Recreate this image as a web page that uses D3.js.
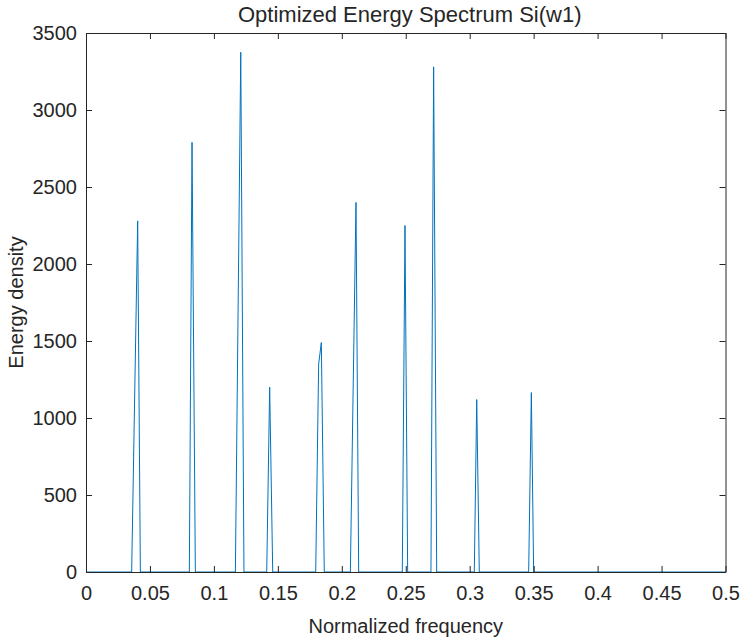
<!DOCTYPE html>
<html>
<head>
<meta charset="utf-8">
<script src="https://cdn.jsdelivr.net/npm/d3@7"></script>
<style>
  body { margin: 0; background: #fff; }
  svg text { font-family: "Liberation Sans", Arial, sans-serif; fill: #262626; }
  .axis path, .axis line { stroke: #262626; }
</style>
</head>
<body>
<div class="wrap"></div>
<script>
// spectrum samples (zero bases included)
const freq = [0, 0.0357, 0.0404, 0.0425, 0.0808, 0.0829, 0.0855, 0.1168, 0.1210, 0.1235,
  0.1413, 0.1436, 0.1460, 0.1796, 0.1819, 0.1840, 0.1863, 0.2067, 0.2111, 0.2132,
  0.2473, 0.2494, 0.2515, 0.2697, 0.2718, 0.2742, 0.3036, 0.3055, 0.3075,
  0.3461, 0.3482, 0.3500, 0.5];
const energy = [0, 0, 2280, 0, 0, 2790, 0, 0, 3375, 0,
  0, 1200, 0, 0, 1350, 1490, 0, 0, 2400, 0,
  0, 2250, 0, 0, 3280, 0, 0, 1120, 0,
  0, 1165, 0, 0];

const xTicks = [0, 0.05, 0.1, 0.15, 0.2, 0.25, 0.3, 0.35, 0.4, 0.45, 0.5];
const yTicks = [0, 500, 1000, 1500, 2000, 2500, 3000, 3500];

const data = freq.map((f, i) => ({f: f, e: energy[i]}));

let w = 741, h = 640;
let margin = {top: 33, right: 15.5, bottom: 68, left: 86};
let width = w - margin.left - margin.right;
let height = h - margin.top - margin.bottom;

let xScale = d3.scaleLinear().domain([0, 0.5]).range([0, width]);
let yScale = d3.scaleLinear().domain([0, 3500]).range([height, 0]);

let svg = d3.select(".wrap").append("svg")
  .attr("width", w)
  .attr("height", h)
  .append("g")
  .attr("transform", "translate(" + margin.left + "," + margin.top + ")");

// line first so the box sits on top like matlab
svg.append("path")
  .datum(data)
  .attr("fill", "none")
  .attr("stroke", "#0072BD")
  .attr("stroke-width", 1)
  .attr("d", d3.line().x(d => xScale(d.f)).y(d => yScale(d.e)));

svg.append("g")
  .attr("class", "x axis")
  .attr("transform", "translate(0," + height + ")")
  .call(d3.axisBottom(xScale).tickValues(xTicks).tickSizeInner(-6).tickSizeOuter(0).tickPadding(14)
    .tickFormat(d => d3.format("")(d)))
  .selectAll("text").style("font-size", "20px");

svg.append("g")
  .attr("class", "x axis")
  .call(d3.axisTop(xScale).tickValues(xTicks).tickSizeInner(-6).tickSizeOuter(0).tickFormat(""));

svg.append("g")
  .attr("class", "y axis")
  .call(d3.axisLeft(yScale).tickValues(yTicks).tickSizeInner(-6).tickSizeOuter(0).tickPadding(9)
    .tickFormat(d3.format("d")))
  .selectAll("text").style("font-size", "20px");

svg.append("g")
  .attr("class", "y axis")
  .attr("transform", "translate(" + width + ",0)")
  .call(d3.axisRight(yScale).tickValues(yTicks).tickSizeInner(-6).tickSizeOuter(0).tickFormat(""));

d3.selectAll(".axis text").attr("fill", "#262626").style("font-family", "'Liberation Sans', Arial, sans-serif");

svg.append("text")
  .attr("x", width / 2 + 4)
  .attr("y", -11)
  .attr("text-anchor", "middle")
  .style("font-size", "22px")
  .text("Optimized Energy Spectrum Si(w1)");

svg.append("text")
  .attr("x", width / 2)
  .attr("y", height + 61)
  .attr("text-anchor", "middle")
  .style("font-size", "20px")
  .text("Normalized frequency");

svg.append("text")
  .attr("transform", "translate(-63," + (height / 2) + ") rotate(-90)")
  .attr("text-anchor", "middle")
  .style("font-size", "20px")
  .text("Energy density");
</script>
</body>
</html>
